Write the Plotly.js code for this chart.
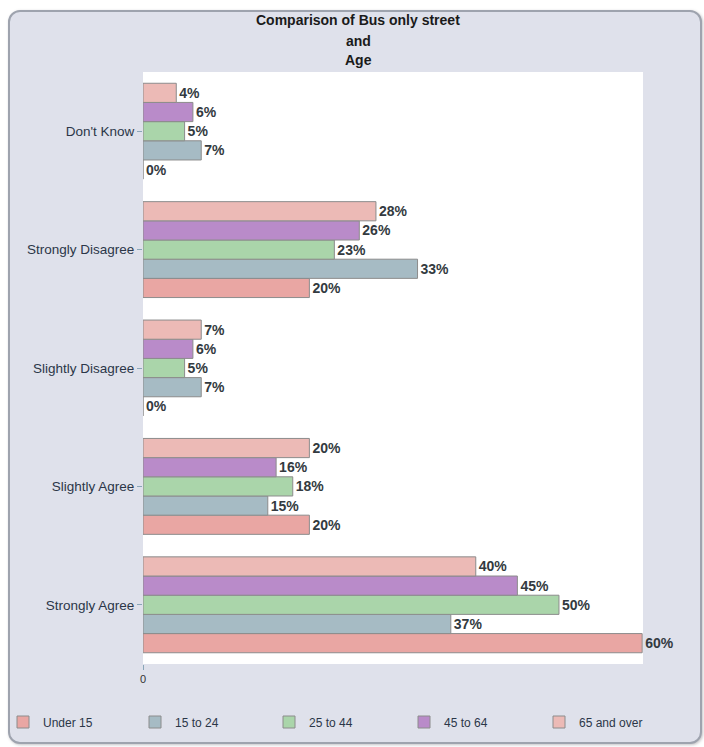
<!DOCTYPE html>
<html>
<head>
<meta charset="utf-8">
<script src="https://cdn.plot.ly/plotly-3.0.1.min.js"></script>
<style>
  html, body { margin: 0; padding: 0; background: #ffffff; }
  #panel {
    position: absolute; left: 8px; top: 10px; width: 690px; height: 730px;
    background: #dfe1eb; border: 2px solid #9ea3ae; border-radius: 12px;
    box-shadow: 1px 1px 3px rgba(80,80,90,0.35);
  }
  #chart { position: absolute; left: 0; top: 0; width: 704px; height: 747px; }
</style>
</head>
<body>
<div id="panel"></div>
<div id="chart"></div>
<script>
// Categories, top to bottom as shown
const categories = ["Don't Know", "Strongly Disagree", "Slightly Disagree", "Slightly Agree", "Strongly Agree"];
const seriesNames = ["Under 15", "15 to 24", "25 to 44", "45 to 64", "65 and over"];
// Values (%) per series, aligned with categories
const under15   = [0, 20, 0, 20, 60];
const age15to24 = [7, 33, 7, 15, 37];
const age25to44 = [5, 23, 5, 18, 50];
const age45to64 = [6, 26, 6, 16, 45];
const age65plus = [4, 28, 7, 20, 40];
const titleLines = ["Comparison of Bus only street", "and", "Age"];
const xTickVals = [0];
const xTickText = ["0"];

const seriesValues = [under15, age15to24, age25to44, age45to64, age65plus];
const colors = ["#e9a6a3", "#a6bbc4", "#aad5aa", "#b98bc9", "#ecbab6"];
const FONT = 'Liberation Sans, Arial, sans-serif';
const legendIds = ['legend', 'legend2', 'legend3', 'legend4', 'legend5'];
const legendLeftPx = [3, 135, 269, 404, 539];

const traces = seriesNames.map((name, i) => ({
  type: 'bar',
  orientation: 'h',
  name: name,
  legend: legendIds[i],
  y: categories,
  x: seriesValues[i],
  text: seriesValues[i].map(v => v + '%'),
  textposition: 'outside',
  constraintext: 'none',
  cliponaxis: false,
  textfont: { family: FONT, size: 14, color: '#333a40', weight: 'bold' },
  marker: { color: colors[i], line: { color: '#8c8c8c', width: 1 } },
  hoverinfo: 'x+y+name'
}));

const titleY = [20, 41, 60];
const annotations = titleLines.map((t, i) => ({
  text: '<b>' + t + '</b>',
  xref: 'paper', yref: 'paper',
  x: (358 - 143) / 500, xanchor: 'center',
  y: 1 + (72 - titleY[i]) / 592, yanchor: 'middle',
  showarrow: false,
  font: { family: FONT, size: 14, color: '#1a1a1a' }
}));

const layout = {
  width: 704, height: 747,
  paper_bgcolor: 'rgba(0,0,0,0)',
  plot_bgcolor: '#ffffff',
  margin: { l: 143, r: 61, t: 72, b: 83 },
  font: { family: FONT, color: '#2b3648' },
  annotations: annotations,
  barmode: 'group',
  bargap: 0.19,
  bargroupgap: 0,
  showlegend: true,
  xaxis: {
    range: [0, 60.1],
    tickvals: xTickVals, ticktext: xTickText,
    ticks: 'outside', ticklen: 5, tickcolor: '#8aa6b8',
    tickfont: { size: 11, color: '#333333' },
    showgrid: false, zeroline: false, showline: false, fixedrange: true
  },
  yaxis: {
    categoryorder: 'array',
    categoryarray: categories.slice().reverse(),
    ticks: 'outside', ticklen: 5, tickcolor: '#8aa6b8',
    tickfont: { size: 13.5, color: '#2b3648' },
    showgrid: false, zeroline: false, showline: false, fixedrange: true
  }
};
legendIds.forEach((id, i) => {
  layout[id] = {
    orientation: 'h',
    xref: 'container', x: legendLeftPx[i] / 704, xanchor: 'left',
    yref: 'container', y: 1 - 722 / 747, yanchor: 'middle',
    itemwidth: 30,
    font: { size: 12, color: '#2b3648' },
    bgcolor: 'rgba(0,0,0,0)'
  };
});

Plotly.newPlot('chart', traces, layout, { displayModeBar: false, staticPlot: true });
</script>
</body>
</html>
